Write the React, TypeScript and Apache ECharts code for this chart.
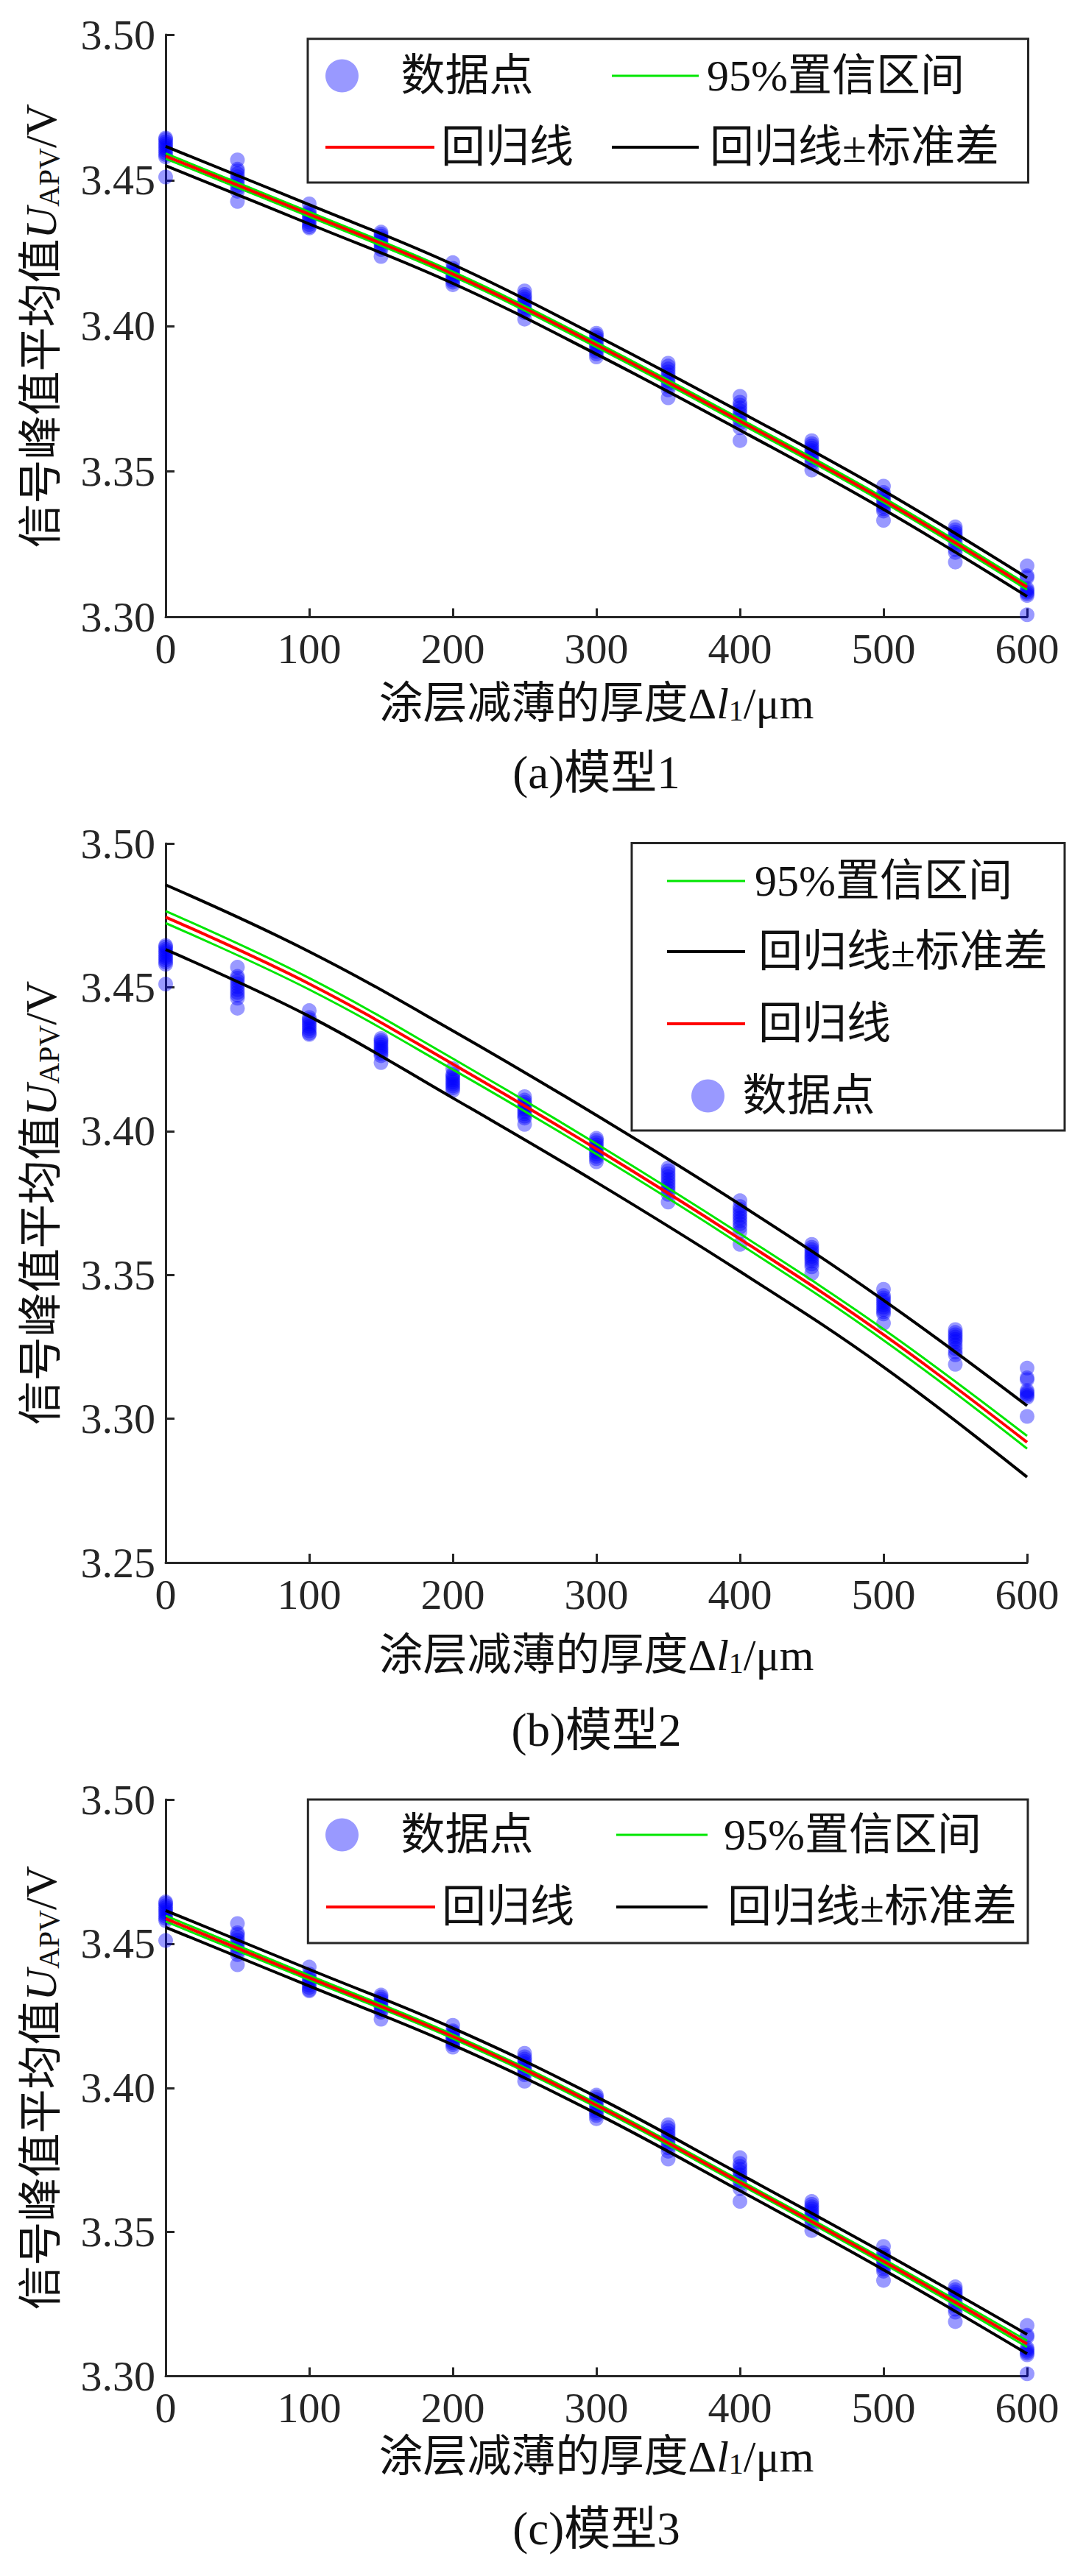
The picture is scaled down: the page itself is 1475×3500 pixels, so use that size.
import React, { useEffect, useRef } from "react";
import * as echarts from "echarts";

// ---------- data ----------
const thickness = [0, 50, 100, 150, 200, 250, 300, 350, 400, 450, 500, 550, 600];
const measuredAt0 = [3.4645, 3.4640, 3.4632, 3.4625, 3.4618, 3.4610, 3.4603, 3.4595, 3.4588, 3.4580, 3.4511];
const measuredAt50 = [3.4570, 3.4538, 3.4532, 3.4522, 3.4512, 3.4502, 3.4492, 3.4482, 3.4472, 3.4462, 3.4427];
const measuredAt100 = [3.4419, 3.4395, 3.4388, 3.4380, 3.4372, 3.4364, 3.4356, 3.4348, 3.4340, 3.4336];
const measuredAt150 = [3.4322, 3.4315, 3.4308, 3.4300, 3.4292, 3.4285, 3.4278, 3.4270, 3.4262, 3.4238];
const measuredAt200 = [3.4217, 3.4198, 3.4192, 3.4185, 3.4178, 3.4171, 3.4164, 3.4157, 3.4150, 3.4141];
const measuredAt250 = [3.4120, 3.4108, 3.4100, 3.4092, 3.4084, 3.4076, 3.4068, 3.4060, 3.4052, 3.4045, 3.4023];
const measuredAt300 = [3.3975, 3.3968, 3.3960, 3.3952, 3.3944, 3.3936, 3.3928, 3.3920, 3.3912, 3.3904, 3.3893];
const measuredAt350 = [3.3872, 3.3862, 3.3852, 3.3842, 3.3832, 3.3822, 3.3812, 3.3802, 3.3792, 3.3780, 3.3753];
const measuredAt400 = [3.3758, 3.3738, 3.3728, 3.3718, 3.3708, 3.3698, 3.3688, 3.3678, 3.3666, 3.3650, 3.3606];
const measuredAt450 = [3.3606, 3.3596, 3.3588, 3.3580, 3.3572, 3.3564, 3.3556, 3.3548, 3.3538, 3.3528, 3.3505];
const measuredAt500 = [3.3450, 3.3428, 3.3420, 3.3412, 3.3404, 3.3396, 3.3388, 3.3380, 3.3372, 3.3364, 3.3332];
const measuredAt550 = [3.3310, 3.3300, 3.3292, 3.3284, 3.3276, 3.3268, 3.3256, 3.3244, 3.3232, 3.3222, 3.3189];
const measuredAt600 = [3.3176, 3.3142, 3.3136, 3.3098, 3.3092, 3.3086, 3.3080, 3.3074, 3.3008];
const measured = [
  measuredAt0, measuredAt50, measuredAt100, measuredAt150, measuredAt200,
  measuredAt250, measuredAt300, measuredAt350, measuredAt400, measuredAt450,
  measuredAt500, measuredAt550, measuredAt600,
];

const fitX = [0, 100, 200, 300, 400, 500, 600];
// model 1
const fit1 = [3.4583, 3.4383, 3.4178, 3.3935, 3.3673, 3.3402, 3.3103];
const ciUp1 = [3.4592, 3.4391, 3.4186, 3.3943, 3.3681, 3.3410, 3.3112];
const ciLo1 = [3.4574, 3.4375, 3.4170, 3.3927, 3.3665, 3.3394, 3.3094];
const sdUp1 = [3.4616, 3.4416, 3.4211, 3.3966, 3.3705, 3.3434, 3.3135];
const sdLo1 = [3.4550, 3.4350, 3.4146, 3.3903, 3.3642, 3.3370, 3.3071];
// model 2
const fit2 = [3.4744, 3.4512, 3.4233, 3.3938, 3.3625, 3.3292, 3.2918];
const ciUp2 = [3.4765, 3.4532, 3.4252, 3.3956, 3.3643, 3.3311, 3.2940];
const ciLo2 = [3.4723, 3.4492, 3.4214, 3.3920, 3.3607, 3.3273, 3.2896];
const sdUp2 = [3.4856, 3.4624, 3.4349, 3.4055, 3.3745, 3.3412, 3.3045];
const sdLo2 = [3.4631, 3.4399, 3.4115, 3.3822, 3.3512, 3.3180, 3.2797];
// model 3
const fit3 = [3.4587, 3.4382, 3.4178, 3.3940, 3.3672, 3.3398, 3.3112];
const ciUp3 = [3.4597, 3.4390, 3.4185, 3.3947, 3.3679, 3.3406, 3.3123];
const ciLo3 = [3.4577, 3.4374, 3.4171, 3.3933, 3.3665, 3.3390, 3.3101];
const sdUp3 = [3.4615, 3.4411, 3.4207, 3.3969, 3.3701, 3.3428, 3.3145];
const sdLo3 = [3.4557, 3.4353, 3.4149, 3.3911, 3.3643, 3.3369, 3.3078];

const yMins = [3.3, 3.25, 3.3];
const yMax = 3.5;
const captions = ["(a)模型1", "(b)模型2", "(c)模型3"];
const NAME_DATA = "数据点";
const NAME_FIT = "回归线";
const NAME_CI = "95%置信区间";
const NAME_SD = "回归线±标准差";

// ---------- styling ----------
const F = '"Liberation Serif", "Noto Sans CJK SC", serif';
const AX = "#262626";
const TXT = "#111111";

const grids = [
  { left: 225, top: 47, width: 1170, height: 791.5 },
  { left: 225, top: 1146, width: 1170, height: 977 },
  { left: 225, top: 2445, width: 1170, height: 783.5 },
];
const xNameGaps = [87, 96, 79];
const captionY = [1018, 2319, 3404];

const nameRich = {
  c: { fontSize: 60, fontFamily: F, color: TXT },
  l: { fontSize: 60, fontFamily: '"Liberation Serif", serif', color: TXT },
  i: { fontSize: 60, fontFamily: '"Liberation Serif", serif', fontStyle: "italic", color: TXT },
  s: { fontSize: 40, fontFamily: '"Liberation Serif", serif', color: TXT, verticalAlign: "bottom" },
};

function buildOption() {
  const models = [
    { fit: fit1, ciUp: ciUp1, ciLo: ciLo1, sdUp: sdUp1, sdLo: sdLo1 },
    { fit: fit2, ciUp: ciUp2, ciLo: ciLo2, sdUp: sdUp2, sdLo: sdLo2 },
    { fit: fit3, ciUp: ciUp3, ciLo: ciLo3, sdUp: sdUp3, sdLo: sdLo3 },
  ];
  const scatterData: number[][] = [];
  thickness.forEach((x, k) => measured[k].forEach((v) => scatterData.push([x, v])));
  const pair = (arr: number[]) => fitX.map((x, j) => [x, arr[j]]);

  const xAxis: any[] = [];
  const yAxis: any[] = [];
  const series: any[] = [];
  const graphic: any[] = [];

  models.forEach((m, i) => {
    xAxis.push({
      type: "value",
      gridIndex: i,
      min: 0,
      max: 600,
      interval: 100,
      axisLine: { show: true, onZero: false, lineStyle: { color: AX, width: 3 } },
      axisTick: { show: true, inside: true, length: 12, lineStyle: { color: AX, width: 3 } },
      axisLabel: { fontSize: 58, fontFamily: F, color: AX, margin: 14 },
      splitLine: { show: false },
      name: "{c|涂层减薄的厚度}{l|Δ}{i|l}{s|1}{l|/μm}",
      nameLocation: "middle",
      nameGap: xNameGaps[i],
      nameTextStyle: { fontSize: 60, lineHeight: 60, fontFamily: F, color: TXT, rich: nameRich },
    });
    yAxis.push({
      type: "value",
      gridIndex: i,
      min: yMins[i],
      max: yMax,
      interval: 0.05,
      axisLine: { show: true, onZero: false, lineStyle: { color: AX, width: 3 } },
      axisTick: { show: true, inside: true, length: 12, lineStyle: { color: AX, width: 3 } },
      axisLabel: {
        fontSize: 58,
        fontFamily: F,
        color: AX,
        margin: 14,
        formatter: (v: number) => v.toFixed(2),
      },
      splitLine: { show: false },
      name: "{c|信号峰值平均值}{i|U}{s|APV}{l|/V}",
      nameLocation: "middle",
      nameRotate: 90,
      nameGap: 139,
      nameTextStyle: { fontSize: 60, lineHeight: 60, fontFamily: F, color: TXT, rich: nameRich },
    });

    series.push({
      name: NAME_DATA,
      type: "scatter",
      xAxisIndex: i,
      yAxisIndex: i,
      data: scatterData,
      symbol: "circle",
      symbolSize: 20,
      itemStyle: { color: "rgba(0,0,255,0.5)" },
      z: 2,
    });
    const line = (name: string, arr: number[], color: string, width: number, z: number) => ({
      name,
      type: "line",
      xAxisIndex: i,
      yAxisIndex: i,
      data: pair(arr),
      smooth: 0.4,
      symbol: "none",
      showSymbol: false,
      lineStyle: { color, width },
      itemStyle: { color },
      z,
    });
    series.push(line(NAME_SD, m.sdUp, "#000000", 4, 3));
    series.push(line(NAME_SD, m.sdLo, "#000000", 4, 3));
    series.push(line(NAME_CI, m.ciUp, "#00e600", 3, 3));
    series.push(line(NAME_CI, m.ciLo, "#00e600", 3, 3));
    series.push(line(NAME_FIT, m.fit, "#ff0000", 4, 3));

    graphic.push({
      type: "text",
      z: 10,
      style: {
        text: captions[i],
        x: 810,
        y: captionY[i],
        fontSize: 63,
        fontFamily: F,
        fill: TXT,
        textAlign: "center",
        align: "center",
        textVerticalAlign: "top",
        verticalAlign: "top",
      },
    });
  });

  // legend boxes
  const boxes = [
    { x: 418, y: 52.7, width: 978.5, height: 195.3 },
    { x: 858, y: 1145.6, width: 588, height: 390.4 },
    { x: 418.3, y: 2445, width: 977.7, height: 195 },
  ];
  boxes.forEach((b) => {
    graphic.push({
      type: "rect",
      z: 3,
      shape: b,
      style: { fill: "#ffffff", stroke: AX, lineWidth: 3 },
    });
  });

  const leg = (
    name: string,
    left: number,
    centerY: number,
    itemWidth: number,
    itemHeight: number,
    padLeft: number,
    icon: string
  ) => ({
    show: true,
    data: [{ name, icon }],
    left,
    top: centerY - 30,
    orient: "horizontal",
    padding: 0,
    itemGap: 0,
    itemWidth,
    itemHeight,
    selectedMode: false,
    z: 5,
    textStyle: {
      fontSize: 60,
      lineHeight: 60,
      fontFamily: F,
      color: TXT,
      padding: [0, 0, 0, padLeft],
    },
  });
  const dot = (name: string, l: number, c: number, w: number, p: number) => leg(name, l, c, w, 45, p, "circle");
  const bar = (name: string, l: number, c: number, w: number, p: number, h: number) =>
    leg(name, l, c, w, h, p, "rect");

  const legend = [
    // (a)
    dot(NAME_DATA, 442, 103, 146, 2),
    bar(NAME_FIT, 442, 200, 148, 4, 4),
    bar(NAME_CI, 831, 103, 118, 6, 3),
    bar(NAME_SD, 831, 200, 118, 10, 4),
    // (b)
    bar(NAME_CI, 906, 1197, 106, 8, 3),
    bar(NAME_SD, 906, 1293, 106, 13, 4),
    bar(NAME_FIT, 906, 1391, 106, 13, 4),
    dot(NAME_DATA, 939, 1489, 84, 0),
    // (c)
    dot(NAME_DATA, 442, 2493, 146, 2),
    bar(NAME_FIT, 443, 2591, 148, 4, 4),
    bar(NAME_CI, 837, 2493, 124, 17, 3),
    bar(NAME_SD, 837, 2591, 124, 22, 4),
  ];

  return {
    animation: false,
    backgroundColor: "#ffffff",
    grid: grids,
    xAxis,
    yAxis,
    series,
    legend,
    graphic,
  };
}

export default function App() {
  const ref = useRef<HTMLDivElement>(null);
  useEffect(() => {
    if (!ref.current) return;
    const chart = echarts.init(ref.current, null, { renderer: "svg" });
    chart.setOption(buildOption() as any);
    return () => chart.dispose();
  }, []);
  return (
    <div
      ref={ref}
      style={{ position: "absolute", left: 0, top: 0, width: 1475, height: 3500, background: "#fff" }}
    />
  );
}
